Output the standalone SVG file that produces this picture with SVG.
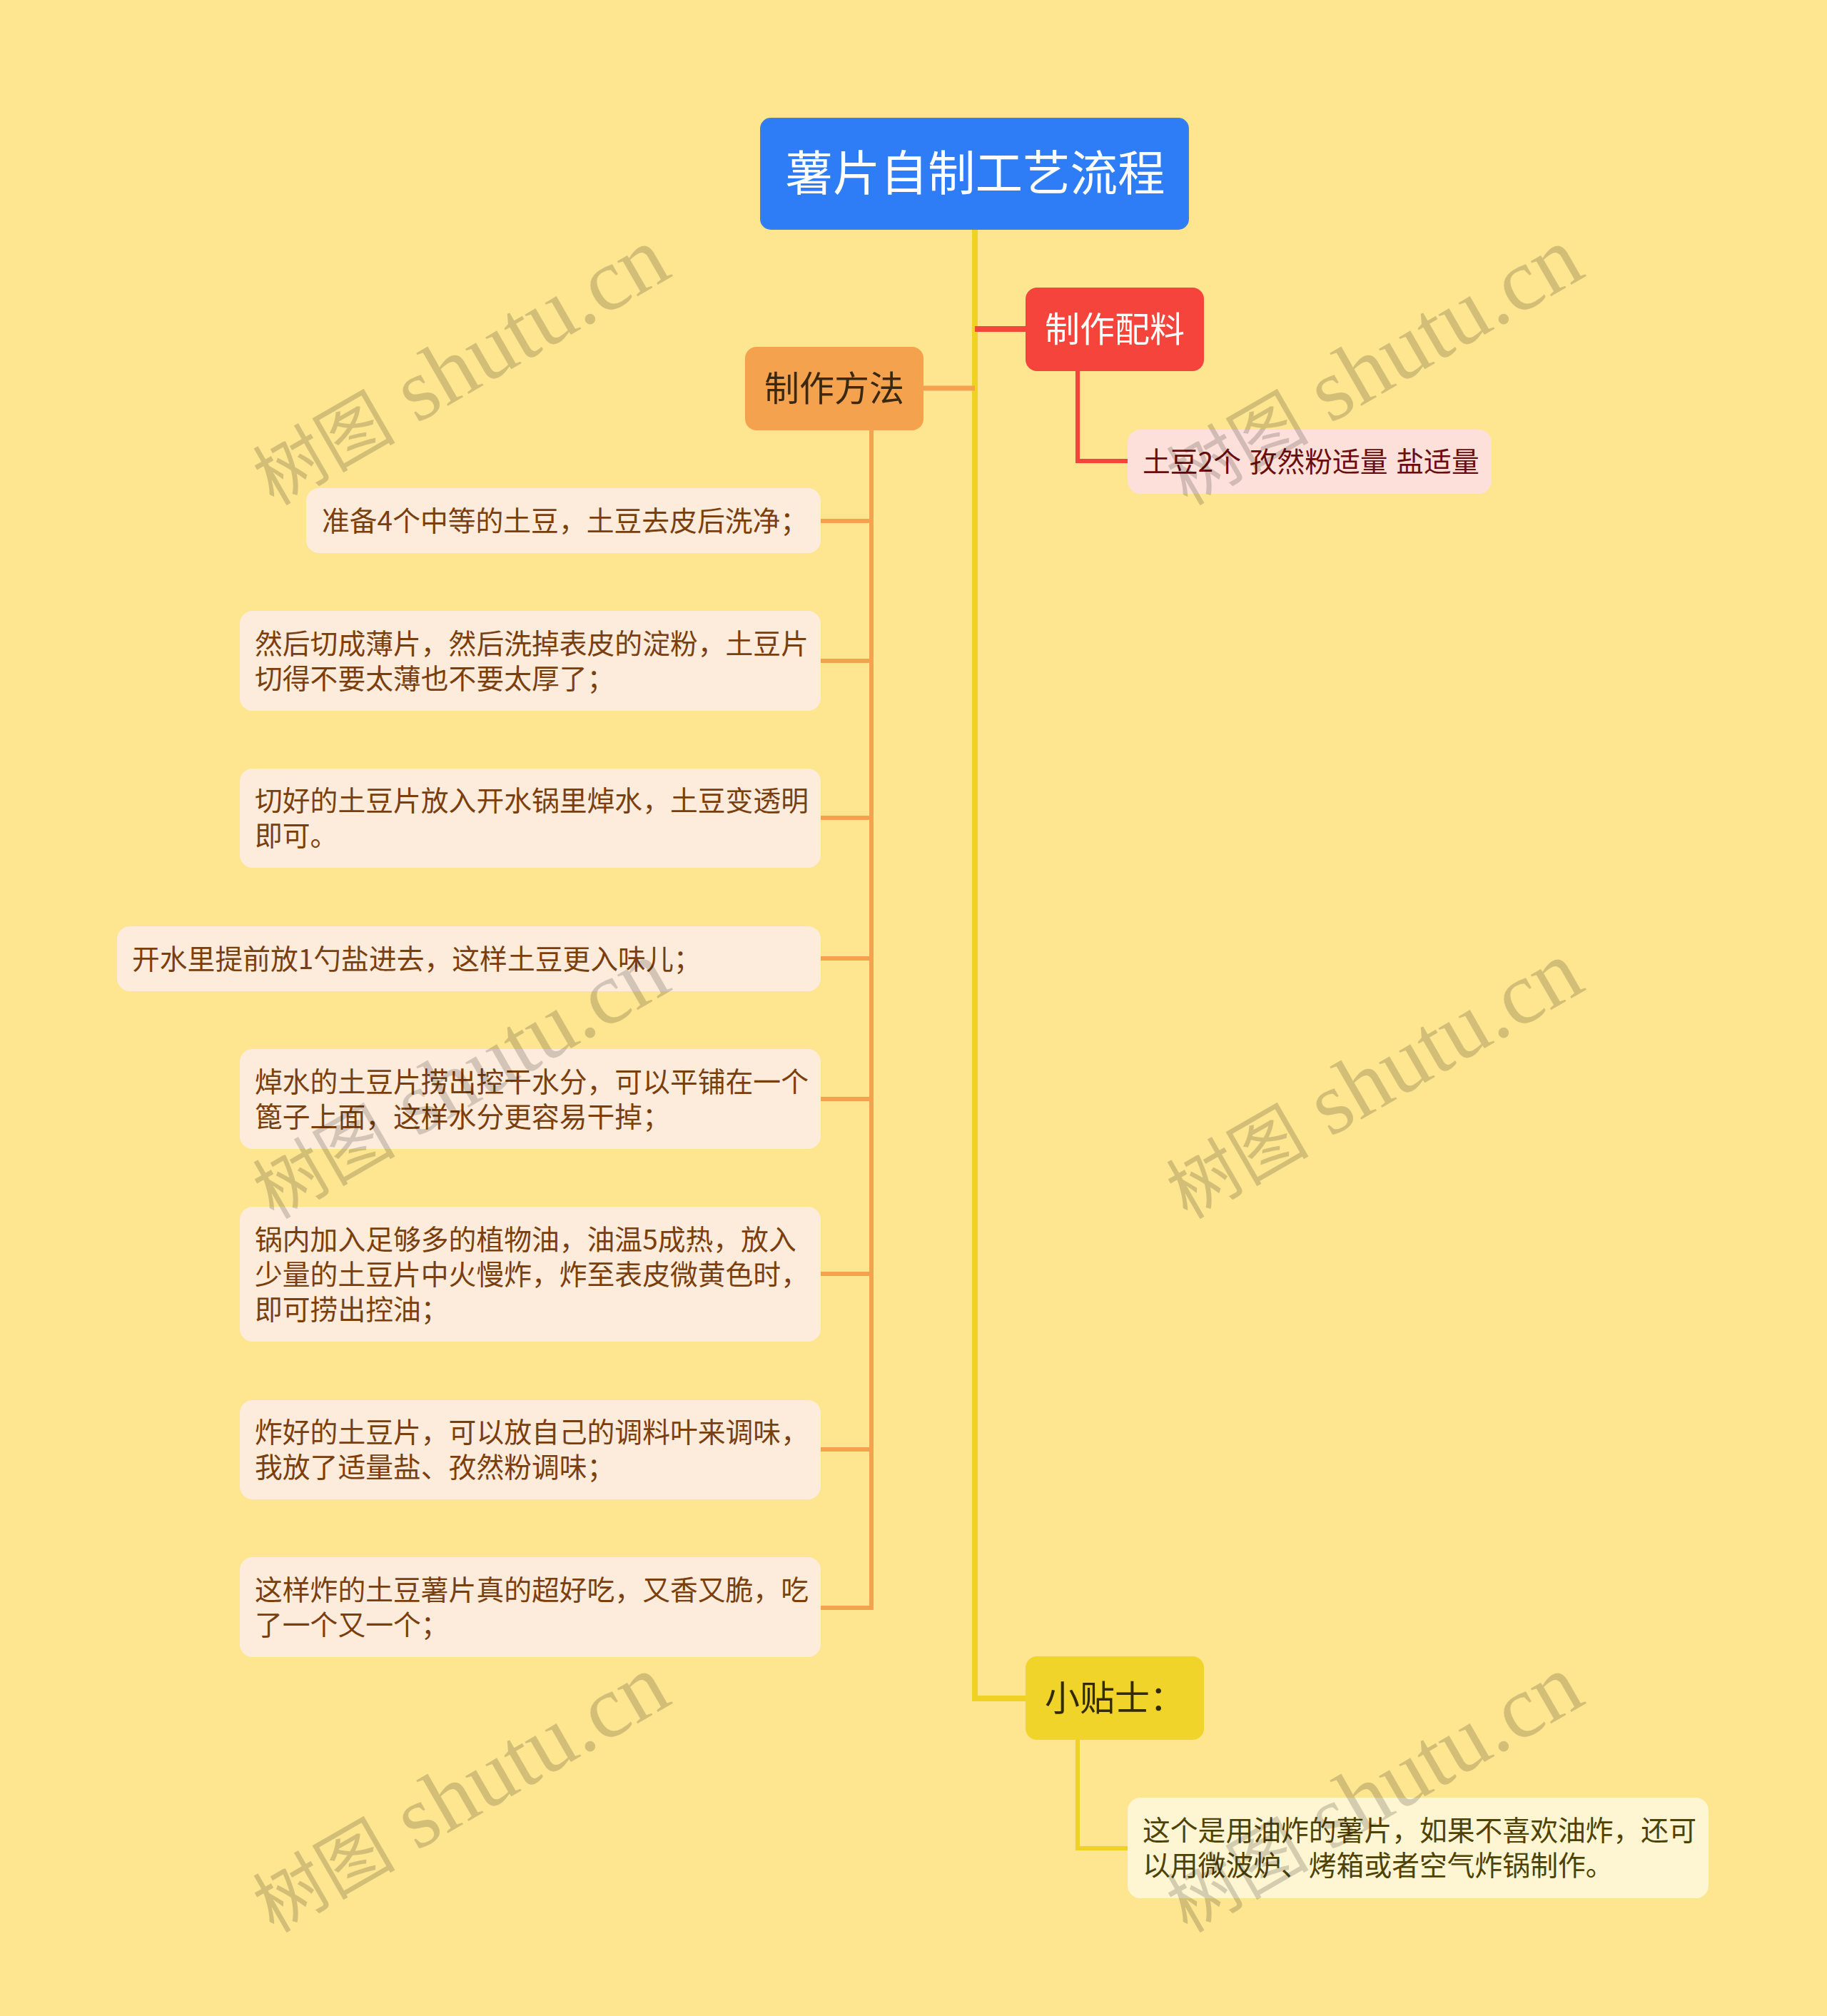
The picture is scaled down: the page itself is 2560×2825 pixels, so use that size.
<svg xmlns="http://www.w3.org/2000/svg" width="2560" height="2825" viewBox="0 0 2560 2825">
<style>
.t{font-family:"Noto Sans CJK SC","Noto Sans",sans-serif;}
.root{font-size:66.5px;fill:#ffffff;}
.l1{font-size:49px;}
.c{font-size:38.8px;fill:#7b3f0e;}
.wm{font-family:"Liberation Serif","Noto Sans CJK SC",serif;font-size:124px;fill:#000000;fill-opacity:0.17;}
.wmc{font-size:100px;}
.cn{fill:none;stroke-linecap:butt;stroke-linejoin:miter;}
</style>
<rect x="0" y="0" width="2560" height="2825" fill="#fee590"/>
<g id="connectors" class="cn">
  <path d="M1366 321 V2380 H1437" stroke="#f0d225" stroke-width="8"/>
  <path d="M1366 461 H1437" stroke="#f5443b" stroke-width="8"/>
  <path d="M1366 544 H1294" stroke="#f5a24f" stroke-width="7"/>
  <path d="M1510 520 V646 H1580" stroke="#f5443b" stroke-width="6"/>
  <path d="M1510 2438 V2590 H1580" stroke="#f0d225" stroke-width="6"/>
  <path d="M1221 603 V2253 H1150" stroke="#f5a24f" stroke-width="6"/>
  <path d="M1221 730 H1150 M1221 926 H1150 M1221 1146 H1150 M1221 1343 H1150 M1221 1540 H1150 M1221 1785 H1150 M1221 2031 H1150" stroke="#f5a24f" stroke-width="6"/>
</g>
<g id="root">
  <rect x="1066" y="166" width="599" height="155" rx="14" fill="#2f7df6" stroke="#3a80e8" stroke-width="2"/>
  <text class="t root" x="1366.5" y="267" text-anchor="middle">薯片自制工艺流程</text>
</g>
<g id="node-peiliao">
  <rect x="1437" y="403" width="250" height="117" rx="16" fill="#f5443b"/>
  <text class="t l1" x="1562" y="479" text-anchor="middle" fill="#ffffff">制作配料</text>
</g>
<g id="node-peiliao-1">
  <rect x="1580" y="602" width="510" height="90" rx="18" fill="#fde0da"/>
  <text class="t c" x="1601" y="661" style="fill:#6b0d0d" word-spacing="3">土豆2个 孜然粉适量 盐适量</text>
</g>
<g id="node-fangfa">
  <rect x="1044" y="486" width="250" height="117" rx="16" fill="#f5a24f"/>
  <text class="t l1" x="1169" y="562" text-anchor="middle" fill="#3b2810">制作方法</text>
</g>
<g id="step-1">
  <rect x="429" y="684" width="721" height="91" rx="18" fill="#fdecdc"/>
  <text class="t c" x="451" y="743.5">准备4个中等的土豆，土豆去皮后洗净；</text>
</g>
<g id="step-2">
  <rect x="336" y="856" width="814" height="140" rx="18" fill="#fdecdc"/>
  <text class="t c"><tspan x="357" y="915.5">然后切成薄片，然后洗掉表皮的淀粉，土豆片</tspan><tspan x="357" y="964.5">切得不要太薄也不要太厚了；</tspan></text>
</g>
<g id="step-3">
  <rect x="336" y="1077" width="814" height="139" rx="18" fill="#fdecdc"/>
  <text class="t c"><tspan x="357" y="1136">切好的土豆片放入开水锅里焯水，土豆变透明</tspan><tspan x="357" y="1185">即可。</tspan></text>
</g>
<g id="step-4">
  <rect x="164" y="1298" width="986" height="91" rx="18" fill="#fdecdc"/>
  <text class="t c" x="185" y="1357.5">开水里提前放1勺盐进去，这样土豆更入味儿；</text>
</g>
<g id="step-5">
  <rect x="336" y="1470" width="814" height="140" rx="18" fill="#fdecdc"/>
  <text class="t c"><tspan x="357" y="1529.5">焯水的土豆片捞出控干水分，可以平铺在一个</tspan><tspan x="357" y="1578.5">篦子上面，这样水分更容易干掉；</tspan></text>
</g>
<g id="step-6">
  <rect x="336" y="1691" width="814" height="189" rx="18" fill="#fdecdc"/>
  <text class="t c"><tspan x="357" y="1750.5">锅内加入足够多的植物油，油温5成热，放入</tspan><tspan x="357" y="1799.5">少量的土豆片中火慢炸，炸至表皮微黄色时，</tspan><tspan x="357" y="1848.5">即可捞出控油；</tspan></text>
</g>
<g id="step-7">
  <rect x="336" y="1962" width="814" height="139" rx="18" fill="#fdecdc"/>
  <text class="t c"><tspan x="357" y="2021">炸好的土豆片，可以放自己的调料叶来调味，</tspan><tspan x="357" y="2070">我放了适量盐、孜然粉调味；</tspan></text>
</g>
<g id="step-8">
  <rect x="336" y="2182" width="814" height="140" rx="18" fill="#fdecdc"/>
  <text class="t c"><tspan x="357" y="2241.5">这样炸的土豆薯片真的超好吃，又香又脆，吃</tspan><tspan x="357" y="2290.5">了一个又一个；</tspan></text>
</g>
<g id="node-tips">
  <rect x="1437" y="2321" width="250" height="117" rx="16" fill="#f0d42a"/>
  <text class="t l1" x="1562" y="2397" text-anchor="middle" fill="#332b00">小贴士：</text>
</g>
<g id="node-tips-1">
  <rect x="1580" y="2519" width="814" height="141" rx="18" fill="#fef6d3"/>
  <text class="t c" style="fill:#4f4200"><tspan x="1601" y="2579">这个是用油炸的薯片，如果不喜欢油炸，还可</tspan><tspan x="1601" y="2628">以用微波炉、烤箱或者空气炸锅制作。</tspan></text>
</g>
<g id="watermarks">
  <text class="wm" transform="translate(644 513) rotate(-30)" x="0" y="40" text-anchor="middle"><tspan class="wmc">树图</tspan> shutu.cn</text>
  <text class="wm" transform="translate(1924 513) rotate(-30)" x="0" y="40" text-anchor="middle"><tspan class="wmc">树图</tspan> shutu.cn</text>
  <text class="wm" transform="translate(644 1513) rotate(-30)" x="0" y="40" text-anchor="middle"><tspan class="wmc">树图</tspan> shutu.cn</text>
  <text class="wm" transform="translate(1924 1513) rotate(-30)" x="0" y="40" text-anchor="middle"><tspan class="wmc">树图</tspan> shutu.cn</text>
  <text class="wm" transform="translate(644 2513) rotate(-30)" x="0" y="40" text-anchor="middle"><tspan class="wmc">树图</tspan> shutu.cn</text>
  <text class="wm" transform="translate(1924 2513) rotate(-30)" x="0" y="40" text-anchor="middle"><tspan class="wmc">树图</tspan> shutu.cn</text>
</g>
</svg>
